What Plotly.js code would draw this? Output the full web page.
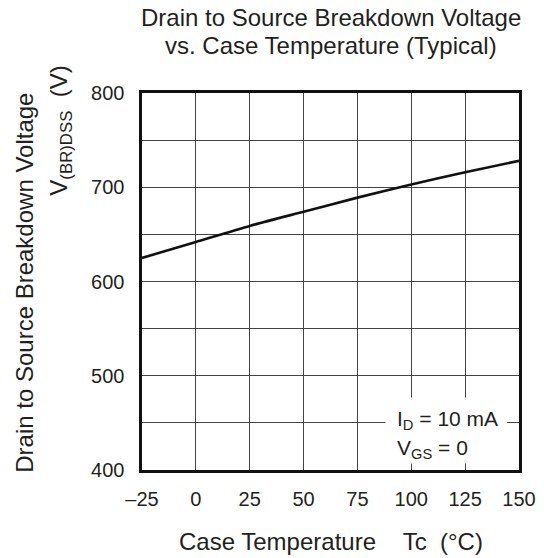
<!DOCTYPE html>
<html>
<head>
<meta charset="utf-8">
<script src="https://cdn.plot.ly/plotly-3.0.1.min.js"></script>
<style>html,body{margin:0;padding:0;background:#fff;}#chart{width:544px;height:558px;}</style>
</head>
<body>
<div id="chart"></div>
<script>
// Data
const temperatureC = [-25, 0, 25, 50, 75, 100, 125, 150];
const breakdownV = [625, 642, 659, 674, 689, 703, 716, 728];
const xTickVals = [-25, 0, 25, 50, 75, 100, 125, 150];
const xTickText = ['\u201325', '0', '25', '50', '75', '100', '125', '150'];
const yTickVals = [400, 500, 600, 700, 800];
const yTickText = ['400', '500', '600', '700', '800'];

const FONT = 'Liberation Sans, Arial, Helvetica, sans-serif';
const NB = '\u00A0';
const INK = '#231f20';

const trace = {
  x: temperatureC,
  y: breakdownV,
  type: 'scatter',
  mode: 'lines',
  line: {color: '#111', width: 2.6, shape: 'spline', smoothing: 0.6},
  hoverinfo: 'skip',
  showlegend: false
};

const layout = {
  width: 544,
  height: 558,
  margin: {l: 142, r: 25, t: 93, b: 88, pad: 0},
  paper_bgcolor: '#fff',
  plot_bgcolor: '#fff',
  font: {family: FONT, color: INK},
  xaxis: {
    range: [-25, 150],
    tickvals: xTickVals,
    ticktext: xTickText,
    ticks: '',
    ticklabelstandoff: 9,
    showgrid: true,
    gridcolor: '#444',
    gridwidth: 1,
    zeroline: false,
    showline: true,
    mirror: true,
    linecolor: '#111',
    linewidth: 2.6,
    tickfont: {size: 20, family: FONT, color: INK},
    fixedrange: true
  },
  yaxis: {
    range: [400, 800],
    tickvals: yTickVals,
    ticktext: yTickText,
    ticks: '',
    ticklabelstandoff: 11,
    showgrid: true,
    gridcolor: '#444',
    gridwidth: 1,
    minor: {tickvals: [450, 550, 650, 750], showgrid: true, gridcolor: '#444', gridwidth: 1, ticks: ''},
    zeroline: false,
    showline: true,
    mirror: true,
    linecolor: '#111',
    linewidth: 2.6,
    tickfont: {size: 20, family: FONT, color: INK},
    fixedrange: true
  },
  shapes: [
    {type: 'rect', xref: 'x', yref: 'y', x0: 88, x1: 144.5, y0: 407, y1: 477,
     fillcolor: '#fff', line: {width: 0}, layer: 'above'}
  ],
  annotations: [
    {text: 'Drain to Source Breakdown Voltage', xref: 'paper', yref: 'paper',
     x: 0.5, y: 1.199, xanchor: 'center', yanchor: 'middle', showarrow: false,
     font: {size: 24, family: FONT, color: INK}},
    {text: 'vs. Case Temperature (Typical)', xref: 'paper', yref: 'paper',
     x: 0.5, y: 1.125, xanchor: 'center', yanchor: 'middle', showarrow: false,
     font: {size: 24, family: FONT, color: INK}},
    {text: 'Case Temperature' + NB + NB + NB + NB + 'Tc' + NB + NB + '(\u00B0C)', xref: 'paper', yref: 'paper',
     x: 0.5, y: -0.19, xanchor: 'center', yanchor: 'middle', showarrow: false,
     font: {size: 24, family: FONT, color: INK}},
    {text: 'Drain to Source Breakdown Voltage', xref: 'paper', yref: 'paper',
     x: -0.31, y: 0.497, xanchor: 'center', yanchor: 'middle', textangle: -90, showarrow: false,
     font: {size: 24, family: FONT, color: INK}},
    {text: 'V<sub>(BR)DSS</sub>' + NB + NB + '(V)', xref: 'paper', yref: 'paper',
     x: -0.215, y: 0.9, xanchor: 'center', yanchor: 'middle', textangle: -90, showarrow: false,
     font: {size: 24, family: FONT, color: INK}},
    {text: 'I<sub>D</sub> = 10 mA', xref: 'x', yref: 'y',
     x: 92.5, y: 453, xanchor: 'left', yanchor: 'middle', showarrow: false,
     font: {size: 21, family: FONT, color: INK}},
    {text: 'V<sub>GS</sub> = 0', xref: 'x', yref: 'y',
     x: 92.5, y: 422, xanchor: 'left', yanchor: 'middle', showarrow: false,
     font: {size: 21, family: FONT, color: INK}}
  ]
};

Plotly.newPlot('chart', [trace], layout, {staticPlot: true, displayModeBar: false});
</script>
</body>
</html>
